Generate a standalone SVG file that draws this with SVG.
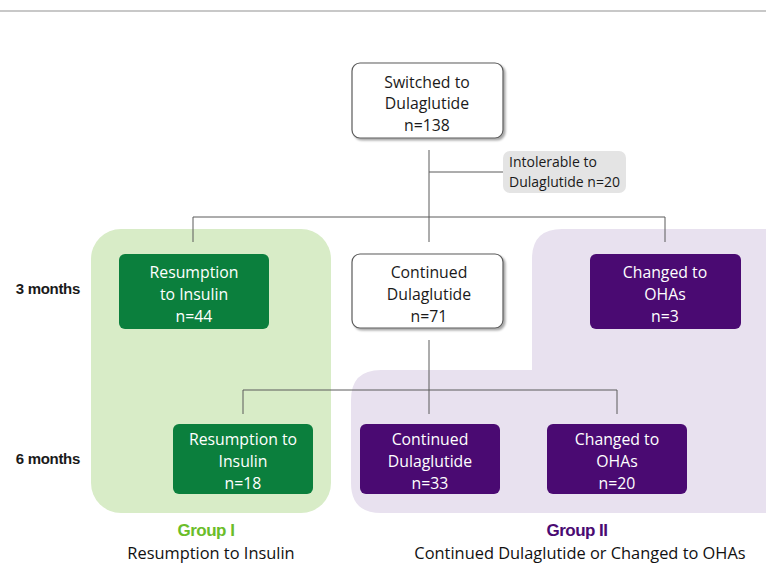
<svg xmlns="http://www.w3.org/2000/svg" width="766" height="564" viewBox="0 0 766 564">
<style>
.t{font-family:"Open Sans","Liberation Sans",sans-serif;font-size:15.8px;text-anchor:middle}
.w{fill:#ffffff}
.k{fill:#1a1a1a}
.wb{fill:#ffffff;stroke:#5a5a5a;stroke-width:1.2}
.gb{fill:#0b7f3d}
.pb{fill:#4a0a72}
.ln{stroke:#5a5a5a;stroke-width:1;fill:none}
.mo{font-family:"Liberation Sans",Arial,sans-serif;font-size:15px;font-weight:bold;text-anchor:end;fill:#1a1a1a;letter-spacing:-0.3px}
.gt{font-family:"Liberation Sans",Arial,sans-serif;font-size:17px;font-weight:bold;text-anchor:middle;letter-spacing:-0.5px}
.st{font-family:"Open Sans","Liberation Sans",sans-serif;font-size:16.4px;text-anchor:middle;fill:#111}
</style>
<defs>
<filter id="sh" x="-10%" y="-10%" width="130%" height="130%">
<feDropShadow dx="2" dy="2" stdDeviation="1.2" flood-color="#000" flood-opacity="0.35"/>
</filter>
</defs>
<rect x="0" y="10" width="766" height="2" fill="#c8c8c8"/>
<g id="bg">
<rect x="91" y="229" width="240" height="284" rx="30" fill="#d8ecc7"/>
<path d="M562,229 H766 V513 H381 Q351,513 351,483 V400 Q351,370 381,370 H532 V259 Q532,229 562,229 Z" fill="#e8e1ef"/>
</g>
<g id="connectors">
<path class="ln" d="M429,150 V242 M429,172 H503 M193,217 H665 M193,217 V242 M665,217 V242"/>
<path class="ln" d="M429,340 V414 M243,390 H617 M243,390 V414 M617,390 V414"/>
</g>
<g id="n_switched">
<rect class="wb" x="352" y="63" width="151" height="75" rx="8" filter="url(#sh)"/>
<text class="t k" x="427" y="88">Switched  to</text>
<text class="t k" x="427" y="109">Dulaglutide</text>
<text class="t k" x="427" y="131">n=138</text>
</g>
<g id="n_intol">
<rect x="503" y="151" width="123" height="42" rx="7" fill="#e4e4e4"/>
<text class="t k" x="509" y="167" style="text-anchor:start;font-size:14px">Intolerable  to</text>
<text class="t k" x="509" y="187" style="text-anchor:start;font-size:14px">Dulaglutide n=20</text>
</g>
<g id="n_res3">
<rect class="gb" x="119" y="254" width="150" height="75" rx="6"/>
<text class="t w" x="194" y="278">Resumption</text>
<text class="t w" x="194" y="300">to Insulin</text>
<text class="t w" x="194" y="322">n=44</text>
</g>
<g id="n_con3">
<rect class="wb" x="352" y="254" width="151" height="74" rx="8" filter="url(#sh)"/>
<text class="t k" x="429" y="278">Continued</text>
<text class="t k" x="429" y="300">Dulaglutide</text>
<text class="t k" x="429" y="322">n=71</text>
</g>
<g id="n_oha3">
<rect class="pb" x="590" y="254" width="151" height="75" rx="6"/>
<text class="t w" x="665" y="278">Changed to</text>
<text class="t w" x="665" y="300">OHAs</text>
<text class="t w" x="665" y="322">n=3</text>
</g>
<g id="n_res6">
<rect class="gb" x="173" y="424" width="140" height="70" rx="6"/>
<text class="t w" x="243" y="445">Resumption to</text>
<text class="t w" x="243" y="467">Insulin</text>
<text class="t w" x="243" y="489">n=18</text>
</g>
<g id="n_con6">
<rect class="pb" x="360" y="424" width="140" height="70" rx="6"/>
<text class="t w" x="430" y="445">Continued</text>
<text class="t w" x="430" y="467">Dulaglutide</text>
<text class="t w" x="430" y="489">n=33</text>
</g>
<g id="n_oha6">
<rect class="pb" x="547" y="424" width="140" height="70" rx="6"/>
<text class="t w" x="617" y="445">Changed to</text>
<text class="t w" x="617" y="467">OHAs</text>
<text class="t w" x="617" y="489">n=20</text>
</g>
<g id="labels">
<text class="mo" x="80" y="294">3 months</text>
<text class="mo" x="80" y="464">6 months</text>
<text class="gt" x="206" y="536" fill="#6bbd2a">Group I</text>
<text class="st" x="211" y="559">Resumption to Insulin</text>
<text class="gt" x="577" y="536" fill="#4a0a72">Group II</text>
<text class="st" x="580" y="559">Continued Dulaglutide or Changed to OHAs</text>
</g>
</svg>
